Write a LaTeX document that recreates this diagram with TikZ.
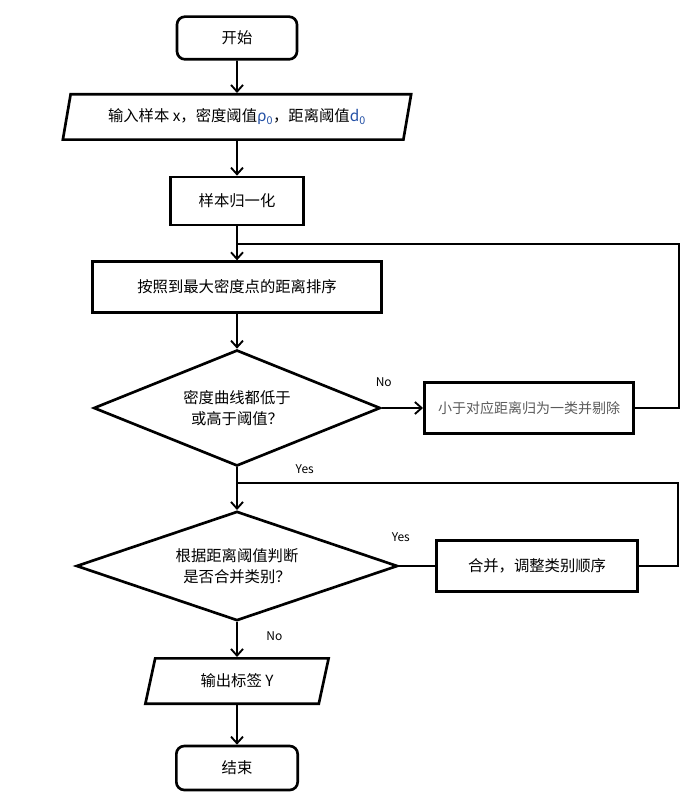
\documentclass[tikz,border=0pt]{standalone}
\usepackage{fontspec}
\setmainfont{Noto Sans CJK SC}
\usetikzlibrary{shapes.geometric,arrows.meta}

\definecolor{symblue}{RGB}{35,80,165}
\definecolor{notegray}{RGB}{90,90,90}

\tikzset{
  box/.style={draw, line width=2pt, minimum width=#1, minimum height=36pt, inner sep=2pt},
  termbox/.style={draw, line width=2pt, rounded corners=6pt, minimum width=90pt, minimum height=32pt},
  iobox/.style={draw, line width=2pt, trapezium, trapezium stretches=true,
    trapezium left angle=76, trapezium right angle=104, minimum width=#1, minimum height=34pt},
  decide/.style={draw, line width=2pt, diamond, aspect=2.6, inner sep=0pt, align=center,
    minimum width=#1, minimum height=84pt},
  flow/.style={line width=1.4pt},
  back/.style={line width=1.1pt},
  lbl/.style={font=\fontsize{9}{10}\selectfont}
}

\begin{document}
\begin{tikzpicture}[x=0.75pt, y=-0.75pt, >={Straight Barb[length=5pt,width=9pt]},
    font=\fontsize{11.5}{16}\selectfont]
  \useasboundingbox (0,0) rectangle (689,798);

  % Блоки
  \node[termbox] (start) at (237,38) {开始};
  \node[iobox=262pt] (input) at (237,117)
    {输入样本 x，密度阈值{\color{symblue}ρ\textsubscript{0}}，距离阈值{\color{symblue}d\textsubscript{0}}};
  \node[box=100pt] (norm) at (237,201) {样本归一化};
  \node[box=217pt, minimum height=38pt] (sort) at (237,287) {按照到最大密度点的距离排序};
  \node[decide=215pt, minimum height=87pt] (dec1) at (237,408) {密度曲线都低于\\或高于阈值？};
  \node[box=157pt, minimum height=38pt, text=notegray, font=\fontsize{10.5}{14}\selectfont]
    (remove) at (529,408) {小于对应距离归为一类并剔除};
  \node[decide=241pt, minimum height=82pt, aspect=2.9] (dec2) at (237,566) {根据距离阈值判断\\是否合并类别？};
  \node[box=151pt, minimum height=38pt] (merge) at (537,566) {合并，调整类别顺序};
  \node[iobox=138pt, trapezium left angle=78, trapezium right angle=102] (output) at (237,681) {输出标签 Y};
  \node[termbox, minimum width=91pt, minimum height=33pt] (end) at (237,768) {结束};

  % Точки возврата
  \coordinate (j1) at (237,244);
  \coordinate (r1) at (679,244);
  \coordinate (j2) at (237,483);
  \coordinate (r2) at (678,483);

  % Основной поток
  \draw[flow, ->] (start) -- (input);
  \draw[flow, ->] (input) -- (norm);
  \draw[flow, ->] (norm) -- (sort);
  \draw[flow, ->] (sort) -- (dec1);
  \draw[flow, ->] (dec1.east) -- (remove.west)
    node[lbl, pos=0.05, above=12pt] {No};
  \draw[flow, ->] (dec1.south) -- (dec2.north)
    node[lbl, pos=0.05, right=40pt] {Yes};
  \draw[flow] (dec2.east) -- (merge.west)
    node[lbl, pos=0.05, above=14pt] {Yes};
  \draw[flow, ->] (dec2.south) -- (output.north)
    node[lbl, pos=0.4, right=18pt] {No};
  \draw[flow, ->] (output) -- (end);

  % Обратные связи
  \draw[back] (remove.east) -| (r1) -- (j1);
  \draw[back] (merge.east) -| (r2) -- (j2);
\end{tikzpicture}
\end{document}
